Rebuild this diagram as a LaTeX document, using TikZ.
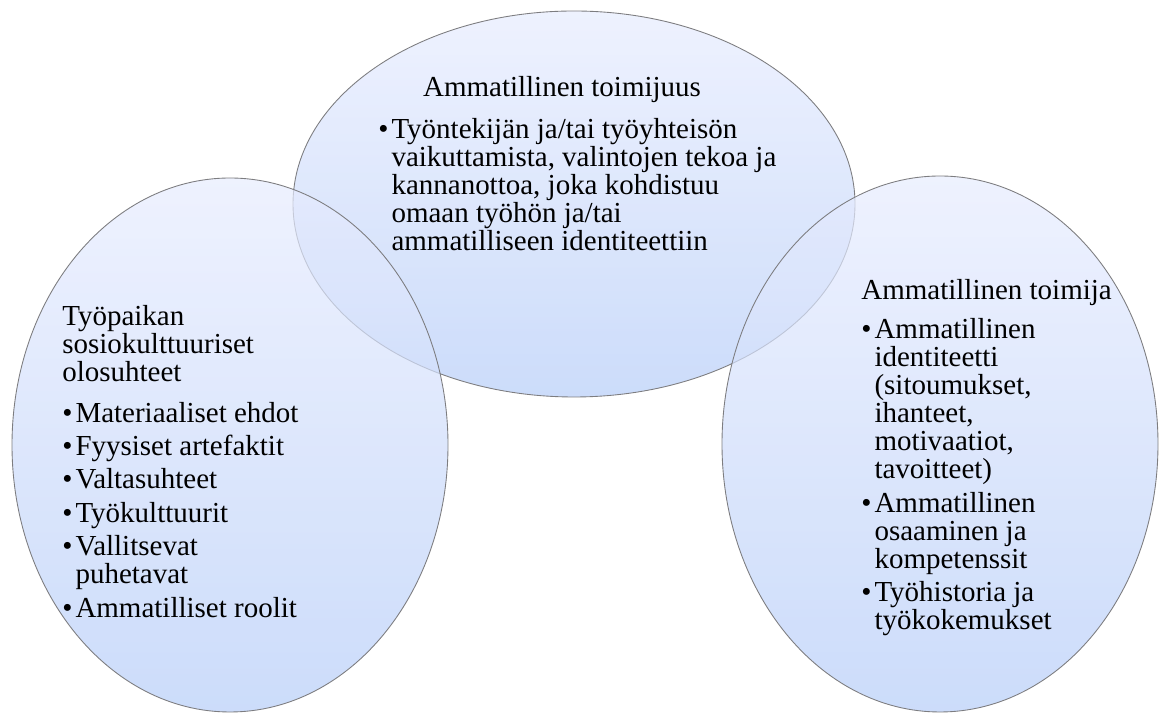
\documentclass[tikz,border=0pt]{standalone}
\usepackage{fontspec}
\setmainfont{Liberation Serif}

\definecolor{pallovalo}{RGB}{231,236,254}
\definecolor{pallotumma}{RGB}{182,205,248}
\definecolor{reuna}{RGB}{125,125,128}

\tikzset{
pallo/.style={top color=pallovalo,bottom color=pallotumma,draw=reuna,line width=0.5pt,fill opacity=0.7},
teksti/.style={align=left,inner sep=0pt,anchor=north west,font=\fontsize{16.5}{16}\selectfont},
otsikko/.style={inner sep=0pt,anchor=base,font=\fontsize{16.5}{16}\selectfont}
}

\newcommand{\kohta}{\makebox[7.5pt][l]{\textbullet}}
\newcommand{\jatko}{\hspace*{7.5pt}}

\begin{document}
\begin{tikzpicture}[x=0.02cm,y=0.02cm]

\useasboundingbox (0,0) rectangle (1161,713);

% kolme soikiota
\shade[pallo] (574,509) ellipse (281 and 193);
\shade[pallo] (230,268) ellipse (218 and 267);
\shade[pallo] (940,269) ellipse (218 and 268);

% ylin soikio
\node[otsikko] (toimijuus) at (562,616){Ammatillinen toimijuus};
\node[teksti] (toimijuuslista) at (378,595){\kohta Työntekijän ja/tai työyhteisön\\
\jatko vaikuttamista, valintojen tekoa ja\\
\jatko kannanottoa, joka kohdistuu\\
\jatko omaan työhön ja/tai\\
\jatko ammatilliseen identiteettiin};

% vasen soikio
\node[teksti] (olosuhteet) at (62,408){Työpaikan\\
sosiokulttuuriset\\
olosuhteet\\[7pt]
\kohta Materiaaliset ehdot\\[3pt]
\kohta Fyysiset artefaktit\\[3pt]
\kohta Valtasuhteet\\[3pt]
\kohta Työkulttuurit\\[3pt]
\kohta Vallitsevat\\
\jatko puhetavat\\[3pt]
\kohta Ammatilliset roolit};

% oikea soikio
\node[teksti] (toimija) at (861,434){Ammatillinen toimija\\[6pt]
\kohta Ammatillinen\\
\jatko identiteetti\\
\jatko (sitoumukset,\\
\jatko ihanteet,\\
\jatko motivaatiot,\\
\jatko tavoitteet)\\[3pt]
\kohta Ammatillinen\\
\jatko osaaminen ja\\
\jatko kompetenssit\\[3pt]
\kohta Työhistoria ja\\
\jatko työkokemukset};

\end{tikzpicture}
\end{document}
